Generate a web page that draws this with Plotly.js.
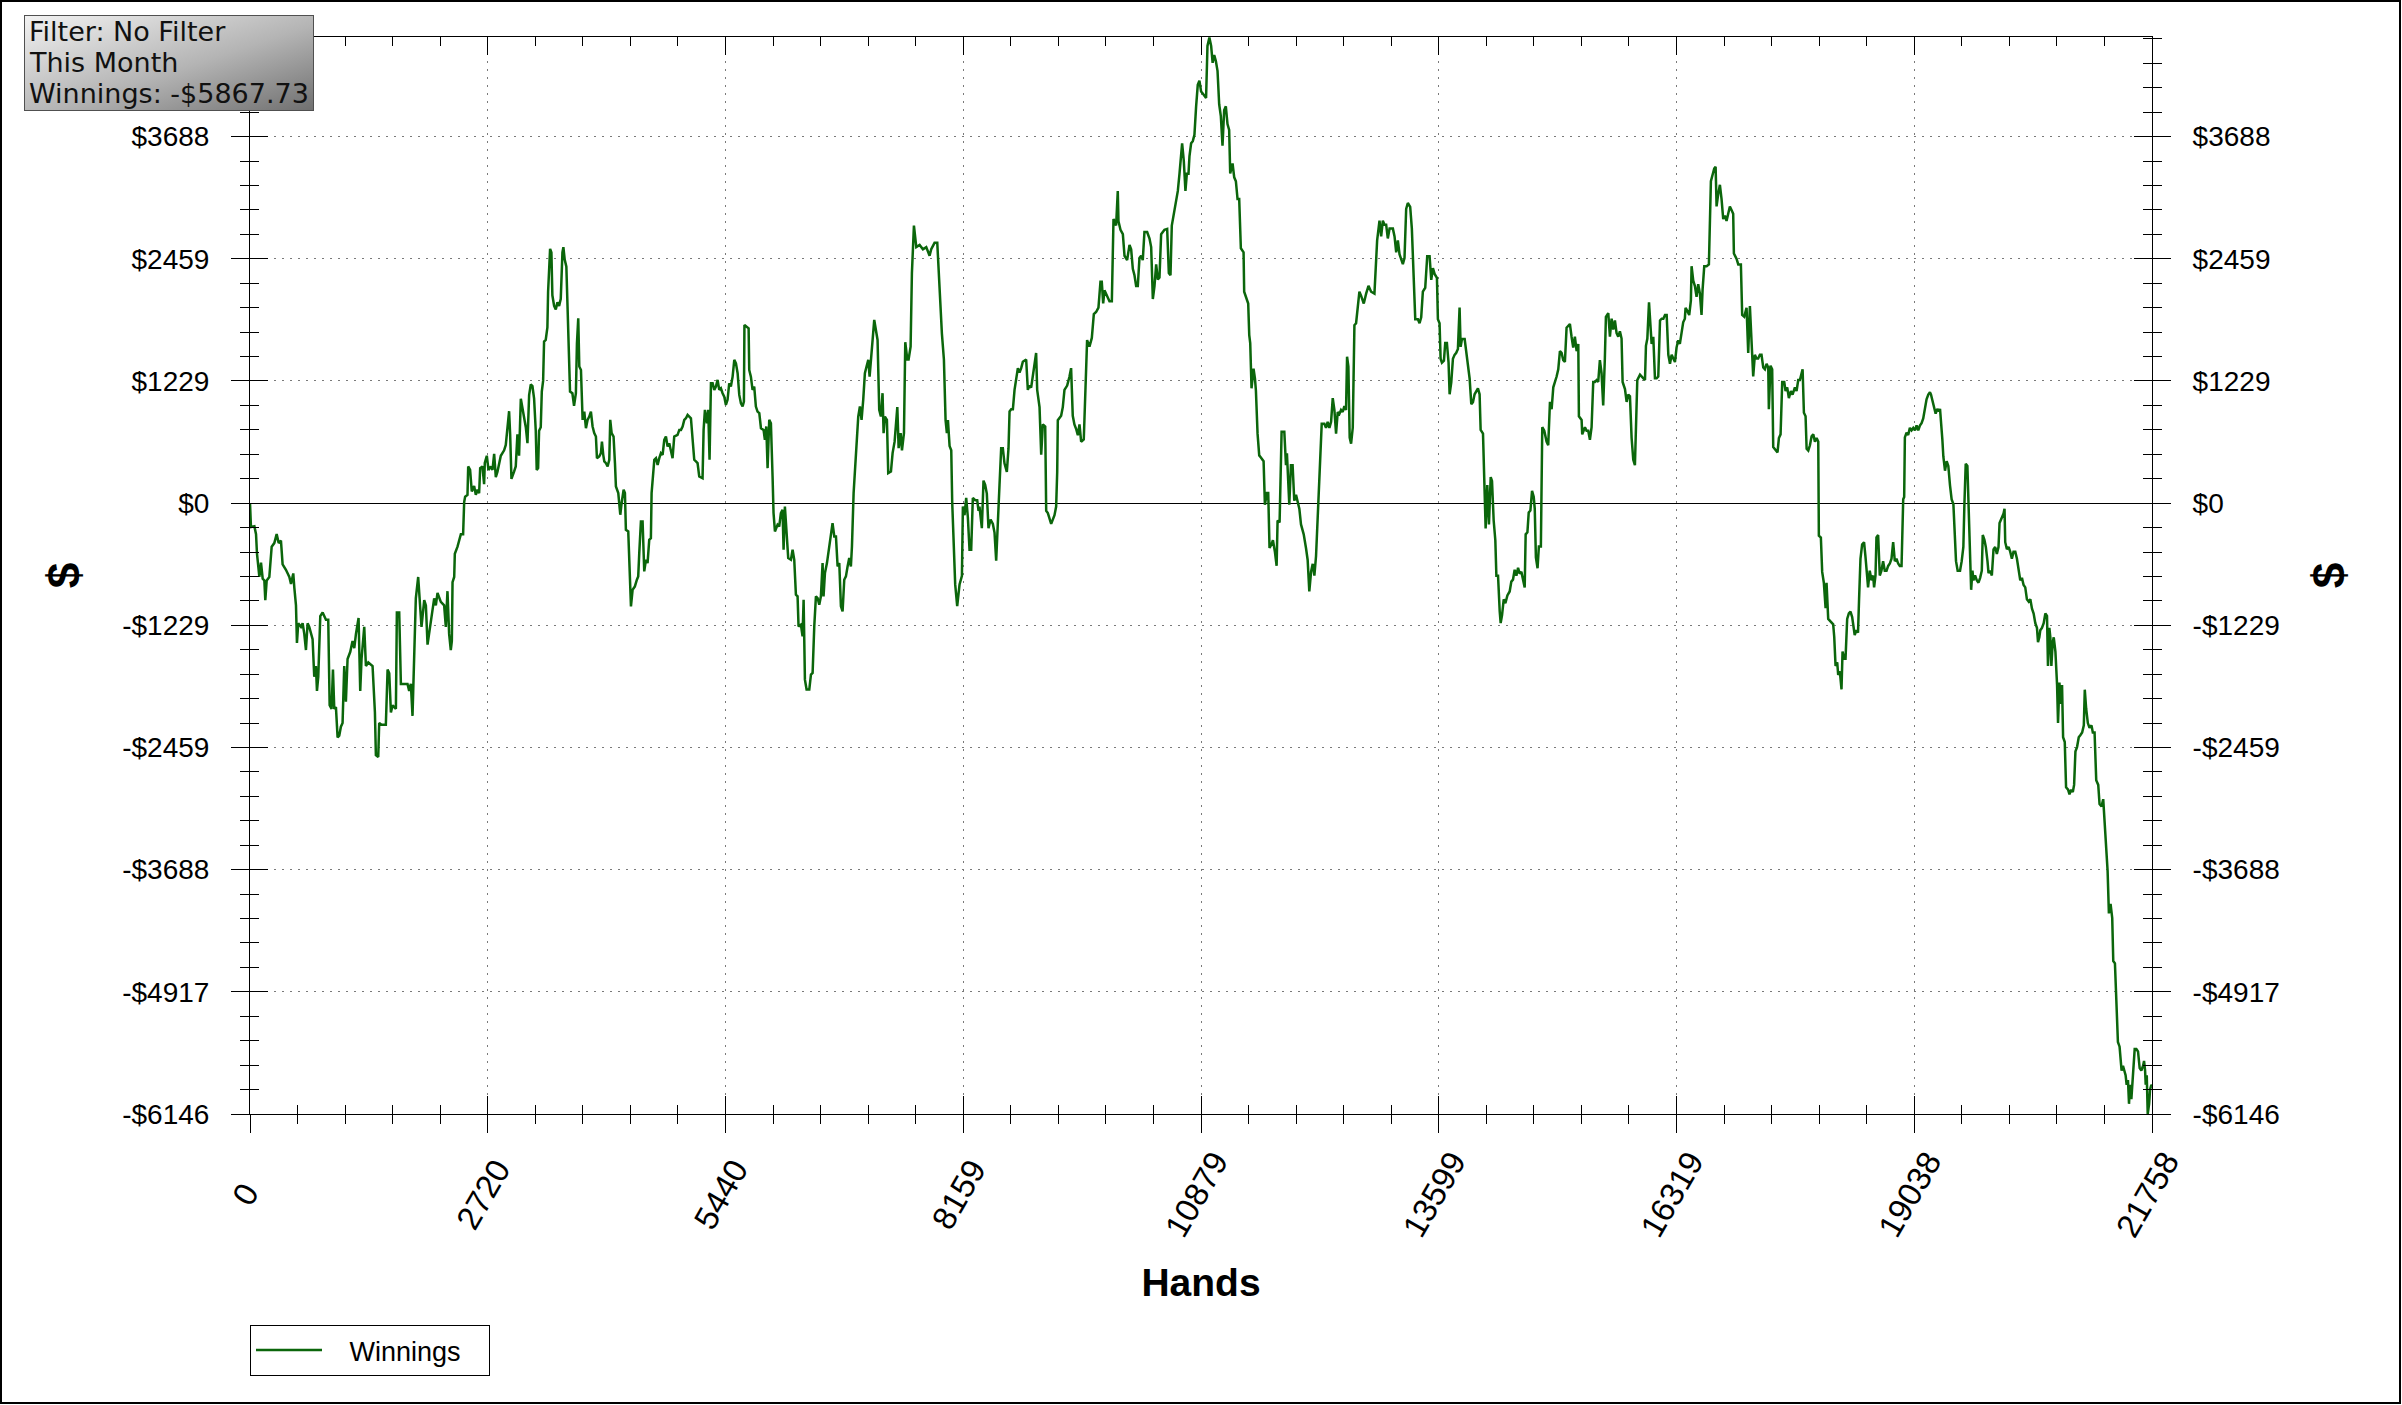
<!DOCTYPE html>
<html><head><meta charset="utf-8">
<script src="https://cdn.plot.ly/plotly-3.0.1.min.js"></script>
<style>html,body{margin:0;padding:0;background:#fff}#chart{width:2402px;height:1405px}</style>
</head><body><div id="chart"></div>
<script>
// [hand, cumulative winnings $], in six stretches
const seg1 = [[0,0],[11,-240],[50,-233],[69,-312],[80,-509],[107,-743],[126,-599],[145,-760],[164,-778],[175,-976],[191,-778],[221,-743],[248,-438],[278,-402],[305,-312],[328,-402],[354,-377],[373,-617],[411,-671],[450,-743],[469,-814],[495,-707],[507,-850],[526,-1029],[537,-1406],[552,-1209],[583,-1245],[602,-1209],[621,-1316],[640,-1478],[659,-1209],[678,-1245],[716,-1370],[735,-1747],[754,-1639],[766,-1890],[781,-1747],[804,-1137],[831,-1101],[869,-1173],[895,-1173],[911,-2034],[933,-2070],[949,-1675],[964,-2070],[983,-2052],[1002,-2357],[1021,-2339],[1040,-2249],[1059,-2213],[1078,-1639],[1097,-1998],[1116,-1568],[1147,-1496],[1173,-1388],[1193,-1460],[1212,-1316],[1242,-1155],[1261,-1890],[1276,-1568],[1307,-1245],[1326,-1639],[1353,-1603],[1402,-1639],[1429,-2106],[1440,-2536],[1467,-2554],[1478,-2213],[1505,-2231],[1554,-2231],[1574,-1675],[1593,-1711],[1612,-2106],[1631,-2034],[1669,-2070],[1680,-1101],[1707,-1101],[1726,-1819],[1756,-1819],[1802,-1819],[1821,-1890],[1840,-1819],[1859,-2141],[1878,-1532],[1897,-958],[1924,-743],[1947,-1029],[1962,-1245],[1993,-976],[2012,-1029],[2031,-1424],[2050,-1316],[2088,-1101],[2107,-958],[2126,-1029],[2145,-904],[2183,-994],[2221,-1029],[2240,-1245],[2259,-886],[2278,-1316],[2297,-1478],[2309,-1388],[2317,-796],[2336,-743],[2343,-509],[2374,-438],[2393,-384],[2412,-312],[2438,-312],[2450,11],[2461,65],[2488,83],[2496,369],[2518,334],[2537,118],[2564,172],[2583,83],[2602,136],[2621,100],[2633,352],[2659,369],[2678,190],[2686,405],[2709,477],[2728,334],[2755,369],[2774,334],[2793,495],[2812,262],[2831,316],[2869,477],[2907,531],[2926,585],[2945,800],[2964,925],[2976,692],[2991,244],[3021,316],[3040,369],[3059,692],[3078,477],[3098,1051],[3117,943],[3155,764],[3174,603],[3193,1087],[3212,1194],[3231,1177],[3250,1051],[3269,728],[3280,334],[3296,352],[3307,728],[3326,764],[3338,1123],[3353,1230],[3364,1625],[3383,1643],[3402,1768],[3410,2127],[3433,2558],[3448,2522],[3459,2091],[3479,1984],[3498,1948],[3517,2020],[3536,1984],[3555,2055],[3574,2522],[3585,2575],[3600,2450],[3619,2378],[3631,2020],[3650,1517],[3661,1123],[3688,1105],[3707,979]];
const seg2 = [[3728,1106],[3740,1608],[3755,1859],[3767,1374],[3786,1340],[3805,838],[3824,921],[3843,754],[3862,838],[3881,871],[3900,921],[3919,771],[3938,704],[3957,670],[3969,452],[3995,469],[4014,503],[4026,620],[4041,486],[4053,419],[4072,402],[4091,369],[4110,436],[4121,838],[4137,704],[4159,670],[4175,402],[4186,168],[4213,101],[4236,-117],[4251,0],[4274,134],[4289,101],[4300,-268],[4327,-285],[4350,-838],[4358,-1039],[4377,-871],[4403,-838],[4426,-771],[4441,-737],[4453,-503],[4472,-184],[4491,-184],[4510,-687],[4529,-570],[4548,-603],[4567,-369],[4586,-352],[4594,101],[4625,436],[4644,452],[4663,385],[4682,452],[4701,503],[4720,486],[4739,637],[4758,670],[4777,570],[4796,603],[4815,536],[4834,452],[4853,670],[4891,687],[4911,737],[4930,737],[4949,771],[4968,838],[4987,854],[5006,888],[5044,854],[5063,637],[5082,436],[5101,419],[5120,402],[5139,268],[5177,251],[5189,737],[5204,938],[5227,804],[5242,938],[5257,436],[5273,1206],[5292,1206],[5311,1139],[5330,1173],[5349,1240],[5368,1139],[5387,1156],[5406,1106],[5425,1072],[5444,988],[5463,1039],[5482,1206],[5501,1173],[5521,1273],[5540,1441],[5559,1407],[5578,1307],[5597,1089],[5616,1005],[5635,972],[5650,1022],[5656,1792],[5685,1776],[5704,1759],[5711,1340],[5730,1273],[5749,1139],[5768,1173],[5787,972],[5806,921],[5826,905],[5845,754],[5875,737],[5890,637],[5906,771],[5921,352],[5940,838],[5959,804],[5978,268],[5989,-100],[6005,-285],[6035,-218],[6054,-235],[6073,-100],[6092,-67],[6104,-469],[6119,-34],[6142,-335],[6157,-553],[6188,-570],[6207,-469],[6226,-570],[6245,-921],[6264,-938],[6275,-1240],[6302,-1223],[6321,-1340],[6333,-972],[6348,-1776],[6367,-1876],[6398,-1876],[6417,-1725],[6436,-1709],[6455,-1240],[6474,-938],[6493,-955],[6512,-1022],[6531,-938],[6550,-603],[6561,-938],[6577,-704],[6600,-603],[6626,-436],[6645,-335],[6664,-201],[6684,-335],[6703,-335],[6722,-637],[6741,-603],[6760,-1039],[6779,-1089],[6798,-771],[6817,-737],[6836,-637],[6855,-553],[6874,-637],[6886,-436],[6905,101],[6920,335],[6939,603],[6958,871],[6977,972],[6996,838],[7015,1039],[7034,1307],[7053,1374],[7073,1441],[7088,1273],[7103,1441],[7122,1675],[7141,1843],[7160,1742],[7179,1642],[7198,938],[7217,871],[7236,1106],[7248,704],[7263,871],[7286,838],[7301,302],[7332,318],[7351,503]];
const seg3 = [[7374,618],[7405,966],[7420,553],[7443,705],[7458,531],[7481,705],[7496,1619],[7519,1445],[7534,1445],[7557,1575],[7572,2315],[7595,2793],[7622,2576],[7660,2598],[7698,2554],[7736,2576],[7774,2489],[7793,2554],[7831,2619],[7862,2619],[7881,2271],[7900,2054],[7915,1706],[7938,1445],[7957,835],[7972,705],[7984,835],[8003,574],[8022,531],[8033,9],[8048,-296],[8067,-818],[8090,-1036],[8117,-818],[8144,-731],[8155,-35],[8174,-122],[8193,52],[8212,-144],[8231,-470],[8250,-470],[8269,52],[8296,30],[8319,30],[8334,-78],[8345,-35],[8372,-252],[8391,226],[8410,183],[8429,96],[8448,-252],[8472,-165],[8498,-209],[8517,-296],[8536,-579],[8555,-252],[8574,183],[8593,553],[8612,553],[8631,400],[8658,313],[8677,553],[8689,922],[8708,944],[8727,944],[8746,1140],[8765,1271],[8784,1358],[8803,1314],[8822,1358],[8841,1423],[8879,1445],[8898,1140],[8917,1183],[8936,1162],[8955,1271],[8974,1401],[8993,1510],[9005,1140],[9032,966],[9051,487],[9070,792],[9097,770],[9108,-78],[9127,-100],[9165,-209],[9203,-122],[9222,-35],[9234,313],[9241,835],[9279,879],[9298,966],[9317,1140],[9348,1183],[9374,1271],[9393,1358],[9412,879],[9431,792],[9450,748],[9470,683],[9489,792],[9508,618],[9538,640],[9557,1183],[9576,1640],[9603,1575],[9630,1662],[9653,1901],[9679,1923],[9706,1967],[9729,2228],[9744,2228],[9760,2010],[9775,2141],[9801,2097],[9832,2032],[9859,2032],[9878,2859],[9908,2793],[9927,3141],[9935,2837],[9958,2750],[9985,2706],[10004,2489],[10034,2445],[10061,2598],[10080,2554],[10099,2358],[10118,2293],[10137,2184],[10156,2184],[10175,2467],[10194,2489],[10213,2445],[10232,2728],[10263,2728],[10290,2663],[10309,2576],[10328,2054],[10347,2184],[10366,2402],[10385,2250],[10404,2271],[10423,2706],[10461,2750],[10492,2759],[10511,2315],[10530,2293],[10545,2793],[10568,2924],[10594,3033],[10614,3141],[10633,3315],[10652,3533],[10663,3620],[10682,3446],[10701,3141],[10717,3315],[10736,3315],[10747,3489],[10766,3620],[10785,3642],[10804,3707],[10823,3990],[10842,4208],[10861,4251],[10880,4142],[10899,4121],[10937,4077],[10953,4600],[10975,4685],[10995,4600],[11012,4430],[11030,4509],[11049,4449],[11068,4350]];
const seg4 = [[11087,4013],[11106,3894],[11125,3596],[11144,3953],[11163,3993],[11182,3814],[11201,3755],[11213,3318],[11240,3417],[11259,3278],[11278,3239],[11297,3060],[11316,3060],[11335,2564],[11366,2524],[11373,2127],[11400,2048],[11419,2008],[11431,1691],[11442,1611],[11457,1155],[11480,1353],[11496,1254],[11507,1135],[11526,699],[11545,480],[11564,460],[11595,421],[11610,-16],[11633,103],[11648,103],[11663,-452],[11686,-413],[11702,-373],[11725,-492],[11744,-631],[11755,-175],[11778,-194],[11801,718],[11832,718],[11851,381],[11862,500],[11889,-16],[11908,381],[11927,381],[11946,24],[11966,83],[11985,24],[12004,-56],[12023,-214],[12054,-314],[12080,-452],[12099,-572],[12118,-889],[12138,-691],[12157,-611],[12176,-730],[12195,-532],[12214,-95],[12233,262],[12244,440],[12260,798],[12290,798],[12309,758],[12328,818],[12348,758],[12367,818],[12386,1056],[12405,937],[12424,699],[12443,917],[12462,897],[12481,937],[12500,917],[12519,976],[12538,937],[12550,1473],[12565,1373],[12580,659],[12596,599],[12615,758],[12634,1790],[12653,1810],[12672,2008],[12691,2127],[12710,2088],[12741,2008],[12768,2108],[12795,2187],[12825,2127],[12863,2108],[12894,2643],[12921,2842],[12940,2683],[12959,2842],[12978,2802],[12997,2802],[13016,2663],[13036,2762],[13074,2762],[13093,2683],[13112,2524],[13131,2643],[13150,2504],[13169,2445],[13188,2405],[13207,2465],[13226,2961],[13245,3020],[13272,2981],[13291,2762],[13310,2326],[13330,1850],[13360,1850],[13379,1810],[13398,1869],[13417,2127],[13444,2167],[13467,2485],[13494,2485],[13513,2246],[13532,2365],[13551,2306],[13578,2266],[13589,1850],[13608,1810],[13620,1453],[13635,1413],[13658,1433],[13673,1611],[13692,1611],[13711,1413],[13723,1095],[13742,1214],[13761,1453],[13780,1492],[13799,1512],[13818,1552],[13837,1969],[13849,1572],[13864,1651],[13895,1651],[13914,1532],[13933,1393],[13952,1254],[13971,996],[13990,1016],[14009,1095],[14047,1155],[14066,1095],[14078,738],[14105,699],[14124,103],[14135,-254],[14154,183],[14173,-214],[14193,262],[14208,222],[14227,-175],[14246,-373],[14258,-730],[14277,-730],[14296,-1088],[14307,-1207],[14323,-1127],[14342,-968],[14361,-1008],[14384,-929],[14410,-889],[14429,-790],[14448,-770],[14467,-671],[14487,-730],[14506,-651],[14525,-710],[14544,-691],[14563,-770],[14582,-849],[14593,-314],[14613,-294],[14628,-95],[14647,-75],[14666,123],[14685,64],[14697,-56]];
const seg5 = [[14710,-546],[14729,-655],[14744,-437],[14767,-437],[14783,764],[14806,728],[14832,619],[14851,582],[14871,1019],[14890,946],[14909,1165],[14947,1274],[14966,1347],[14985,1529],[15004,1511],[15023,1438],[15042,1420],[15061,1765],[15099,1802],[15118,1674],[15137,1565],[15156,1674],[15176,1529],[15195,1602],[15202,874],[15233,837],[15240,692],[15271,764],[15290,728],[15309,728],[15328,637],[15347,764],[15366,1219],[15385,1219],[15404,1238],[15423,1219],[15442,1438],[15461,1310],[15480,983],[15499,1456],[15511,1875],[15538,1911],[15557,1674],[15576,1856],[15595,1747],[15614,1838],[15633,1711],[15652,1674],[15671,1729],[15690,1656],[15702,1219],[15729,1147],[15748,1019],[15767,1092],[15786,1074],[15805,655],[15824,437],[15843,382],[15855,801],[15870,1238],[15901,1292],[15939,1256],[15958,1238],[15969,1583],[15985,1656],[16004,2020],[16023,1747],[16034,1602],[16053,1674],[16072,1256],[16091,1256],[16110,1274],[16130,1838],[16149,1856],[16168,1856],[16187,1893],[16206,1893],[16225,1492],[16244,1401],[16263,1492],[16282,1456],[16301,1420],[16319,1565],[16338,1638],[16357,1602],[16376,1711],[16395,1820],[16414,1856],[16422,1966],[16445,1929],[16464,1893],[16483,2038],[16491,2384],[16510,2239],[16529,2184],[16548,2075],[16567,2202],[16586,2111],[16605,1893],[16617,2148],[16636,2384],[16663,2384],[16689,2402],[16712,3240],[16731,3294],[16750,3367],[16766,3385],[16777,2985],[16796,3112],[16815,3203],[16834,3058],[16853,2858],[16872,2894],[16891,2839],[16910,2912],[16929,2985],[16948,2949],[16967,2912],[16975,2512],[17006,2457],[17025,2402],[17055,2402],[17070,1893],[17093,1875],[17120,1966],[17139,1511],[17158,1984],[17177,1638],[17196,1274],[17215,1492],[17234,1456],[17253,1456],[17272,1492],[17291,1492],[17311,1365],[17330,1347],[17349,1401],[17368,1365],[17375,946],[17394,1383],[17413,1347],[17425,564],[17444,546],[17474,510],[17490,655],[17509,692],[17528,1219],[17551,1219],[17566,1128],[17585,1165],[17604,1056],[17627,1128],[17646,1092],[17673,1165],[17692,1128],[17711,1238],[17730,1238],[17749,1310],[17761,1347],[17776,910],[17795,874],[17807,546],[17826,528],[17845,582],[17864,673],[17883,692],[17902,619],[17921,655],[17940,619],[17947,-328],[17970,-346],[17985,-692],[18004,-801],[18024,-1056],[18035,-801],[18054,-1165],[18073,-1183],[18092,-1201],[18111,-1219],[18123,-1347],[18138,-1638],[18157,-1602],[18168,-1729],[18187,-1693],[18206,-1875],[18218,-1492],[18237,-1565],[18252,-1565],[18271,-1165],[18290,-1110],[18309,-1092],[18328,-1147],[18347,-1274]];
const seg6 = [[18357,-1327],[18376,-1279],[18395,-1303],[18407,-967],[18423,-560],[18442,-417],[18464,-393],[18480,-536],[18491,-680],[18510,-848],[18529,-680],[18549,-776],[18568,-728],[18579,-848],[18595,-728],[18606,-345],[18625,-321],[18644,-728],[18663,-680],[18682,-584],[18701,-680],[18721,-680],[18740,-632],[18759,-608],[18778,-560],[18797,-393],[18816,-584],[18835,-560],[18854,-608],[18873,-632],[18893,-632],[18900,-297],[18912,38],[18923,62],[18931,661],[18950,709],[18969,685],[18988,757],[19007,733],[19027,757],[19046,733],[19065,781],[19084,733],[19103,781],[19122,805],[19141,852],[19160,948],[19179,1044],[19199,1092],[19218,1116],[19230,1092],[19245,1044],[19264,972],[19283,900],[19302,948],[19321,924],[19333,948],[19344,852],[19360,637],[19371,469],[19390,326],[19409,421],[19428,374],[19447,182],[19466,38],[19486,-10],[19505,-441],[19516,-584],[19535,-680],[19562,-680],[19581,-584],[19600,-441],[19612,-10],[19627,397],[19646,374],[19658,38],[19677,-488],[19689,-872],[19704,-680],[19715,-776],[19734,-728],[19753,-776],[19773,-800],[19792,-752],[19811,-680],[19822,-321],[19841,-369],[19857,-441],[19876,-584],[19888,-704],[19907,-680],[19926,-728],[19945,-465],[19964,-441],[19983,-512],[20002,-441],[20014,-201],[20040,-153],[20060,-105],[20071,-57],[20079,-393],[20098,-465],[20117,-441],[20136,-488],[20155,-560],[20174,-488],[20194,-488],[20213,-560],[20232,-656],[20251,-776],[20270,-752],[20289,-824],[20308,-848],[20327,-967],[20347,-991],[20366,-967],[20385,-1063],[20404,-1111],[20423,-1207],[20442,-1255],[20454,-1398],[20469,-1350],[20480,-1279],[20499,-1255],[20519,-1207],[20538,-1111],[20557,-1135],[20568,-1638],[20584,-1255],[20595,-1350],[20607,-1638],[20622,-1398],[20634,-1350],[20653,-1494],[20672,-1829],[20683,-2213],[20699,-1805],[20714,-2021],[20729,-1829],[20741,-2356],[20760,-2404],[20775,-2859],[20798,-2883],[20814,-2931],[20833,-2883],[20852,-2907],[20867,-2835],[20882,-2500],[20901,-2452],[20920,-2356],[20940,-2332],[20959,-2308],[20978,-2236],[20989,-1877],[21005,-2069],[21024,-2213],[21043,-2260],[21066,-2236],[21081,-2308],[21101,-2308],[21120,-2787],[21143,-2835],[21158,-3027],[21181,-3051],[21200,-2979],[21219,-3218],[21234,-3506],[21250,-3697],[21265,-4128],[21284,-4032],[21303,-4176],[21315,-4607],[21334,-4631],[21349,-4990],[21368,-5421],[21387,-5469],[21399,-5565],[21410,-5709],[21426,-5661],[21445,-5732],[21456,-5756],[21468,-5852],[21483,-5804],[21495,-6044],[21506,-5852],[21522,-5996],[21541,-5756],[21560,-5493],[21579,-5493],[21598,-5517],[21617,-5685],[21636,-5709],[21656,-5661],[21667,-5613],[21679,-5709],[21686,-5852],[21698,-5756],[21709,-6146],[21725,-6044],[21736,-5900],[21751,-5852],[21758,-5867.73]];

const xTickLabels = ['0','2720','5440','8159','10879','13599','16319','19038','21758'];
const yTickLabels = ['-$6146','-$4917','-$3688','-$2459','-$1229','$0','$1229','$2459','$3688'];
const infoLines = ['Filter: No Filter','This Month','Winnings: -$5867.73'];
const seriesName = 'Winnings';
const handsMax = 21758;
const winMin = -6146.4;
const winTop = 4690;

const all = seg1.concat(seg2, seg3, seg4, seg5, seg6);
const hands = all.map(p => p[0]);
const winnings = all.map(p => p[1]);

const xStep = handsMax / (xTickLabels.length - 1);
const xTickVals = xTickLabels.map((_, i) => i * xStep);
const yStep = -winMin / 5;
const yTickVals = yTickLabels.map((_, i) => winMin + i * yStep);

// rotated labels are centred on their tick: pad shorter ones with trailing no-break spaces
const nb = '\u00a0';
const maxLen = Math.max(...xTickLabels.map(s => s.length));
const xTickText = xTickLabels.map(s => s + nb.repeat(maxLen - s.length));

// page geometry
const W = 2402, H = 1405, L = 250, R = 250, T = 37, B = 291;
const PW = W - L - R, PH = H - T - B;
const fx = p => (p - L) / PW;
const fy = p => (H - B - p) / PH;

const arial = 'Liberation Sans, Arial, sans-serif';
const black = '#000000';

const xMinor = (side) => ({ticks: side, ticklen: 9, tickwidth: 1, tickcolor: black, tick0: 0, dtick: xStep / 5, showgrid: false});
const yMinor = (side) => ({ticks: side, ticklen: 9, tickwidth: 1, tickcolor: black, tick0: winMin, dtick: yStep / 5, showgrid: false});

const xBase = {range: [0, handsMax], tickmode: 'array', tickvals: xTickVals, ticktext: xTickText,
  ticklen: 18, tickwidth: 1, tickcolor: black, zeroline: false, automargin: false, fixedrange: true};
const yBase = {range: [winMin, winTop], tickmode: 'array', tickvals: yTickVals, ticktext: yTickLabels,
  ticklen: 18, tickwidth: 1, tickcolor: black, automargin: false, fixedrange: true};

const gradSvg = "<svg xmlns='http://www.w3.org/2000/svg' width='290' height='96'><defs><linearGradient id='g' x1='0' y1='0' x2='1' y2='1'><stop offset='0' stop-color='#f2f2f2'/><stop offset='0.55' stop-color='#b4b4b4'/><stop offset='1' stop-color='#707070'/></linearGradient></defs><rect x='0.5' y='0.5' width='289' height='95' fill='url(#g)' stroke='#505050' stroke-width='1'/></svg>";

// empty traces so the mirrored tick axes get drawn
const axisHolder = (xa, ya) => ({type: 'scatter', mode: 'lines', x: [], y: [], xaxis: xa, yaxis: ya, showlegend: false, hoverinfo: 'skip'});

const data = [{
  type: 'scatter', mode: 'lines', x: hands, y: winnings, name: nb.repeat(3) + seriesName + nb.repeat(3),
  line: {color: '#0b660b', width: 2.5}, xaxis: 'x', yaxis: 'y', hoverinfo: 'skip'
}, axisHolder('x2', 'y'), axisHolder('x3', 'y'), axisHolder('x', 'y2'), axisHolder('x', 'y3'), axisHolder('x', 'y4')];

const layout = {
  width: W, height: H,
  margin: {l: L, r: R, t: T, b: B, pad: 0},
  paper_bgcolor: '#ffffff', plot_bgcolor: '#ffffff',
  font: {family: arial, color: black},
  showlegend: true,
  xaxis: Object.assign({}, xBase, {
    domain: [0, 1], anchor: 'y', side: 'bottom', ticks: 'outside', tickangle: -60,
    showline: true, linecolor: black, linewidth: 1,
    showgrid: true, gridcolor: '#7a7a7a', gridwidth: 1, griddash: '2px,6px',
    tickfont: {family: arial, size: 33, color: black}, ticklabelshift: 14, ticklabelstandoff: -4,
    minor: xMinor('outside'),
    title: {text: '<b>Hands</b>', font: {family: arial, size: 39, color: black}, standoff: 26}
  }),
  xaxis2: Object.assign({}, xBase, {
    overlaying: 'x', anchor: 'y', side: 'bottom', ticks: 'inside', showticklabels: false,
    showline: false, showgrid: false, minor: xMinor('inside')
  }),
  xaxis3: Object.assign({}, xBase, {
    overlaying: 'x', anchor: 'y', side: 'top', ticks: 'inside', showticklabels: false,
    showline: true, linecolor: black, linewidth: 1, showgrid: false, minor: xMinor('inside')
  }),
  yaxis: Object.assign({}, yBase, {
    domain: [0, 1], anchor: 'x', side: 'left', ticks: 'outside',
    showline: true, linecolor: black, linewidth: 1,
    showgrid: true, gridcolor: '#7a7a7a', gridwidth: 1, griddash: '2px,6px',
    zeroline: true, zerolinecolor: black, zerolinewidth: 1,
    tickfont: {family: arial, size: 28, color: black}, ticklabelstandoff: 16,
    minor: yMinor('outside'),
    title: {text: '<b>$</b>', font: {family: arial, size: 46, color: black}, standoff: 27}
  }),
  yaxis2: Object.assign({}, yBase, {
    overlaying: 'y', anchor: 'x', side: 'right', ticks: 'outside',
    showline: true, linecolor: black, linewidth: 1, showgrid: false, zeroline: false,
    tickfont: {family: arial, size: 28, color: black}, ticklabelstandoff: 16,
    minor: yMinor('outside'),
    title: {text: '<b>$</b>', font: {family: arial, size: 46, color: black}, standoff: 34}
  }),
  yaxis3: Object.assign({}, yBase, {
    overlaying: 'y', anchor: 'x', side: 'left', ticks: 'inside', showticklabels: false,
    showline: false, showgrid: false, zeroline: false, minor: yMinor('inside')
  }),
  yaxis4: Object.assign({}, yBase, {
    overlaying: 'y', anchor: 'x', side: 'right', ticks: 'inside', showticklabels: false,
    showline: false, showgrid: false, zeroline: false, minor: yMinor('inside')
  }),
  legend: {
    x: 0, xanchor: 'left', y: fy(1325), yanchor: 'top',
    bgcolor: '#ffffff', bordercolor: black, borderwidth: 1,
    font: {family: arial, size: 27, color: black}, itemwidth: 66
  },
  images: [{
    source: 'data:image/svg+xml;charset=utf-8,' + encodeURIComponent(gradSvg),
    xref: 'paper', yref: 'paper', x: fx(24), y: fy(15), sizex: 290 / PW, sizey: 96 / PH,
    xanchor: 'left', yanchor: 'top', sizing: 'stretch', layer: 'above'
  }],
  annotations: infoLines.map((t, i) => ({
    text: t, xref: 'paper', yref: 'paper', x: fx(27), y: fy(31.5 + i * 31),
    xanchor: 'left', yanchor: 'middle', showarrow: false,
    font: {family: 'DejaVu Sans, Verdana, sans-serif', size: 27, color: '#111111'}
  })),
  shapes: [{
    type: 'rect', xref: 'paper', yref: 'paper', layer: 'above',
    x0: fx(1), x1: fx(W - 2), y0: fy(H - 2), y1: fy(1),
    line: {color: black, width: 2}, fillcolor: 'rgba(0,0,0,0)'
  }]
};

Plotly.newPlot('chart', data, layout, {staticPlot: true, displayModeBar: false});
</script>
</body></html>
